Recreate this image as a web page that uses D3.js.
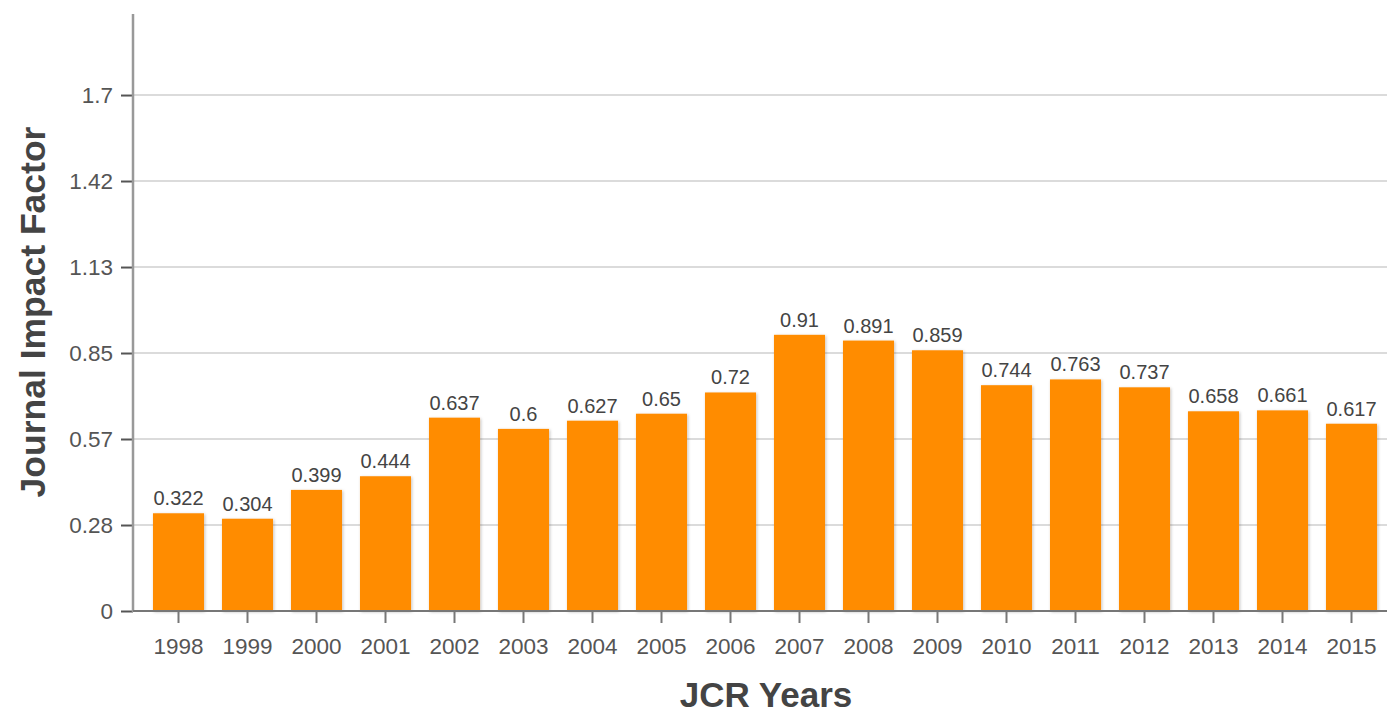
<!DOCTYPE html>
<html><head><meta charset="utf-8">
<script src="https://cdn.jsdelivr.net/npm/d3@7"></script>
<style>body{margin:0;background:#fff;} text{font-family:"Liberation Sans",Arial,sans-serif;}</style>
</head><body>
<svg id="chart" width="1387" height="714"></svg>
<script>
const years = ["1998","1999","2000","2001","2002","2003","2004","2005","2006","2007","2008","2009","2010","2011","2012","2013","2014","2015"];
const impactFactor = [0.322,0.304,0.399,0.444,0.637,0.6,0.627,0.65,0.72,0.91,0.891,0.859,0.744,0.763,0.737,0.658,0.661,0.617];
const yTicks = [0, 0.2833, 0.5667, 0.85, 1.1333, 1.4167, 1.7];

(function(){
const svg = d3.select("#chart");
const mLeft = 133, mRight = 1387, mTop = 14, mBottom = 611;

const defs = svg.append("defs");
const f = defs.append("filter").attr("id","sh").attr("x","-20%").attr("y","-20%").attr("width","140%").attr("height","140%");
f.append("feDropShadow").attr("dx",1).attr("dy",1).attr("stdDeviation",1.5).attr("flood-color","#000").attr("flood-opacity",0.25);

const x = d3.scaleBand().domain(years).range([144, 1386]).paddingInner(0.26).paddingOuter(0.13);
const y = d3.scaleLinear().domain([0, 1.967]).range([mBottom, mTop]);

svg.append("g").selectAll("line").data(yTicks.slice(1)).join("line")
  .attr("x1", mLeft).attr("x2", mRight).attr("y1", d => y(d)).attr("y2", d => y(d))
  .attr("stroke", "#cfcfcf").attr("stroke-width", 1.5);

svg.append("g").selectAll("rect").data(years).join("rect")
  .attr("x", d => x(d)).attr("width", x.bandwidth())
  .attr("y", (d,i) => y(impactFactor[i])).attr("height", (d,i) => mBottom - y(impactFactor[i]))
  .attr("fill", "#FF8C00").attr("filter","url(#sh)");

svg.append("g").selectAll("text").data(years).join("text")
  .attr("x", d => x(d) + x.bandwidth()/2).attr("y", (d,i) => y(impactFactor[i]) - 8)
  .attr("text-anchor","middle").attr("font-size", 20).attr("fill","#444")
  .text((d,i) => String(impactFactor[i]));

const yAxis = d3.axisLeft(y).tickValues(yTicks).tickSize(12).tickPadding(8)
  .tickFormat(d => d === 0 ? "0" : String(+d.toFixed(2)));
const gy = svg.append("g").attr("transform", `translate(${mLeft},0)`).call(yAxis);
gy.select(".domain").remove();
gy.selectAll(".tick line").attr("stroke","#555").attr("stroke-width",2);
gy.selectAll(".tick text").attr("font-size",22.5).attr("fill","#555").attr("font-family","Liberation Sans, Arial, sans-serif");
svg.append("line").attr("x1",mLeft).attr("x2",mLeft).attr("y1",mTop).attr("y2",mBottom+1)
  .attr("stroke","#999").attr("stroke-width",2.5);

const xAxis = d3.axisBottom(x).tickSize(12).tickPadding(15).tickSizeOuter(0);
const gx = svg.append("g").attr("transform", `translate(0,${mBottom})`).call(xAxis);
gx.select(".domain").remove();
gx.selectAll(".tick line").attr("stroke","#777").attr("stroke-width",2);
gx.selectAll(".tick text").attr("font-size",22.5).attr("fill","#555").attr("font-family","Liberation Sans, Arial, sans-serif");
svg.append("line").attr("x1",mLeft).attr("x2",mRight).attr("y1",mBottom).attr("y2",mBottom)
  .attr("stroke","#777").attr("stroke-width",2);

svg.append("text").attr("x", 766).attr("y", 707).attr("text-anchor","middle")
  .attr("font-size",35).attr("font-weight","bold").attr("fill","#444").text("JCR Years");
svg.append("text").attr("transform","translate(45,312) rotate(-90)").attr("text-anchor","middle")
  .attr("font-size",35.5).attr("font-weight","bold").attr("fill","#444").text("Journal Impact Factor");
})();
</script>
</body></html>
